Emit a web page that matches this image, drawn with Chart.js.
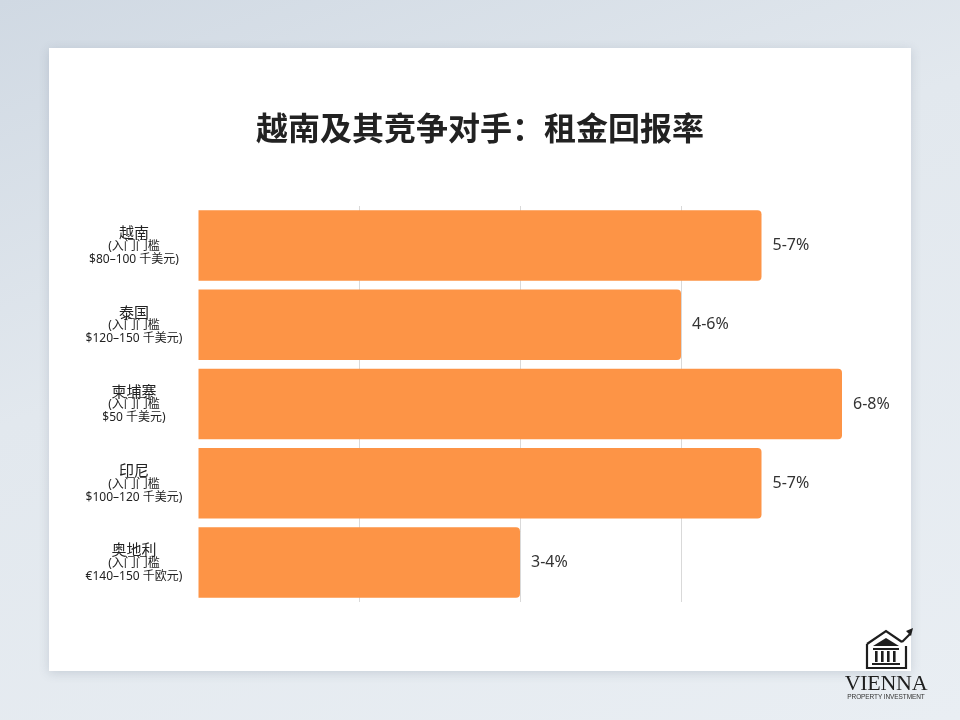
<!DOCTYPE html>
<html>
<head>
<meta charset="utf-8">
<script src="https://cdn.jsdelivr.net/npm/chart.js@4.4.1/dist/chart.umd.min.js"></script>
<style>
  html, body { margin: 0; padding: 0; }
  body {
    width: 960px; height: 720px; overflow: hidden; position: relative;
    background: linear-gradient(160deg, #d0d9e3 0%, #e2e8ee 40%, #e9eef3 100%);
    font-family: "Noto Sans CJK SC", "Noto Sans", sans-serif;
  }
  #card {
    position: absolute; left: 49px; top: 48px; width: 862px; height: 623px;
    background: #fff; box-shadow: 0 2px 10px rgba(60, 80, 100, 0.18);
  }
  #title {
    position: absolute; left: 0; top: 58px; width: 862px; text-align: center;
    font-family: "Noto Sans CJK SC", sans-serif; font-size: 32px; font-weight: bold;
    color: #222; line-height: 40px; margin: 0;
  }
  #barChart { position: absolute; left: 0; top: 0; }
  #logo { position: absolute; left: 840px; top: 624px; width: 92px; text-align: center; }
  #logo .name { font-family: "Liberation Serif", "DejaVu Serif", serif; font-size: 22px; color: #1e1e1e; line-height: 20px; letter-spacing: -0.3px; margin-top: -2px; }
  #logo .sub { font-family: "Liberation Sans", sans-serif; font-size: 6.5px; color: #333; letter-spacing: -0.1px; }
</style>
</head>
<body>
<div id="card">
  <canvas id="barChart" width="862" height="623"></canvas>
  <h1 id="title"></h1>
</div>
<div id="logo">
  <svg width="92" height="46" viewBox="0 0 92 46">
    <path d="M27 20 L46 7 L62 18" fill="none" stroke="#1e1e1e" stroke-width="2.2"/>
    <path d="M62 18 L70 10" fill="none" stroke="#1e1e1e" stroke-width="2.2"/>
    <path d="M66 7 L73 4 L71 12 Z" fill="#1e1e1e"/>
    <path d="M27 20 L27 44 L66 44 L66 22" fill="none" stroke="#1e1e1e" stroke-width="2.2"/>
    <path d="M33 22 L46 14 L59 22 Z" fill="#1e1e1e"/>
    <rect x="33" y="24" width="26" height="2" fill="#1e1e1e"/>
    <rect x="35" y="27" width="2.6" height="11" fill="#1e1e1e"/>
    <rect x="41" y="27" width="2.6" height="11" fill="#1e1e1e"/>
    <rect x="47" y="27" width="2.6" height="11" fill="#1e1e1e"/>
    <rect x="53" y="27" width="2.6" height="11" fill="#1e1e1e"/>
    <rect x="32" y="39" width="28" height="2" fill="#1e1e1e"/>
  </svg>
  <div class="name">VIENNA</div>
  <div class="sub">PROPERTY INVESTMENT</div>
</div>
<script>
// chart data
const countries = ['越南', '泰国', '柬埔寨', '印尼', '奥地利'];
const entryLines = ['(入门门槛', '(入门门槛', '(入门门槛', '(入门门槛', '(入门门槛'];
const entryPrices = ['$80–100 千美元)', '$120–150 千美元)', '$50 千美元)', '$100–120 千美元)', '€140–150 千欧元)'];
const yieldLabels = ['5-7%', '4-6%', '6-8%', '5-7%', '3-4%'];
const yieldValues = [7, 6, 8, 7, 4];
const chartTitle = '越南及其竞争对手：租金回报率';

const barColor = '#fd9446';

// draws the multi-line country labels on the left
const countryLabelsPlugin = {
    id: 'countryLabels',
    afterDraw(chart) {
        const ctx = chart.ctx;
        const yScale = chart.scales.y;
        const cx = 85;
        ctx.save();
        ctx.textAlign = 'center';
        ctx.textBaseline = 'middle';
        ctx.fillStyle = '#222';
        countries.forEach((name, i) => {
            const y = yScale.getPixelForValue(i);
            ctx.font = '15px "Noto Sans CJK SC", sans-serif';
            ctx.fillText(name, cx, y - 13);
            ctx.font = '12px "Noto Sans", "Noto Sans CJK SC", sans-serif';
            ctx.fillText(entryLines[i], cx, y + 1);
            ctx.fillText(entryPrices[i], cx, y + 14);
        });
        ctx.restore();
    }
};

// draws the range text just after each bar end
const valueLabelsPlugin = {
    id: 'valueLabels',
    afterDatasetsDraw(chart) {
        const ctx = chart.ctx;
        const meta = chart.getDatasetMeta(0);
        ctx.save();
        ctx.font = '16px "Noto Sans", sans-serif';
        ctx.fillStyle = '#333';
        ctx.textAlign = 'left';
        ctx.textBaseline = 'middle';
        meta.data.forEach((bar, i) => {
            ctx.fillText(yieldLabels[i], bar.x + 11, bar.y);
        });
        ctx.restore();
    }
};

document.addEventListener('DOMContentLoaded', function() {
    document.getElementById('title').textContent = chartTitle;
    const ctx = document.getElementById('barChart').getContext('2d');
    new Chart(ctx, {
        type: 'bar',
        data: {
            labels: countries,
            datasets: [{
                data: yieldValues,
                backgroundColor: barColor,
                borderRadius: { topRight: 4, bottomRight: 4, topLeft: 0, bottomLeft: 0 },
                borderSkipped: 'start',
                categoryPercentage: 0.89,
                barPercentage: 1.0
            }]
        },
        options: {
            indexAxis: 'y',
            responsive: false,
            animation: false,
            layout: { padding: { left: 149, right: 69, top: 158, bottom: 69 } },
            plugins: {
                legend: { display: false },
                tooltip: { enabled: false },
                title: { display: false }
            },
            scales: {
                x: {
                    min: 0,
                    max: 8,
                    ticks: { display: false, stepSize: 2 },
                    border: { display: false },
                    grid: {
                        drawTicks: false,
                        color: c => (c.tick && (c.tick.value === 0 || c.tick.value === 8)) ? 'rgba(0,0,0,0)' : '#d9d9d9'
                    }
                },
                y: {
                    display: false
                }
            }
        },
        plugins: [countryLabelsPlugin, valueLabelsPlugin]
    });
});
</script>
</body>
</html>
